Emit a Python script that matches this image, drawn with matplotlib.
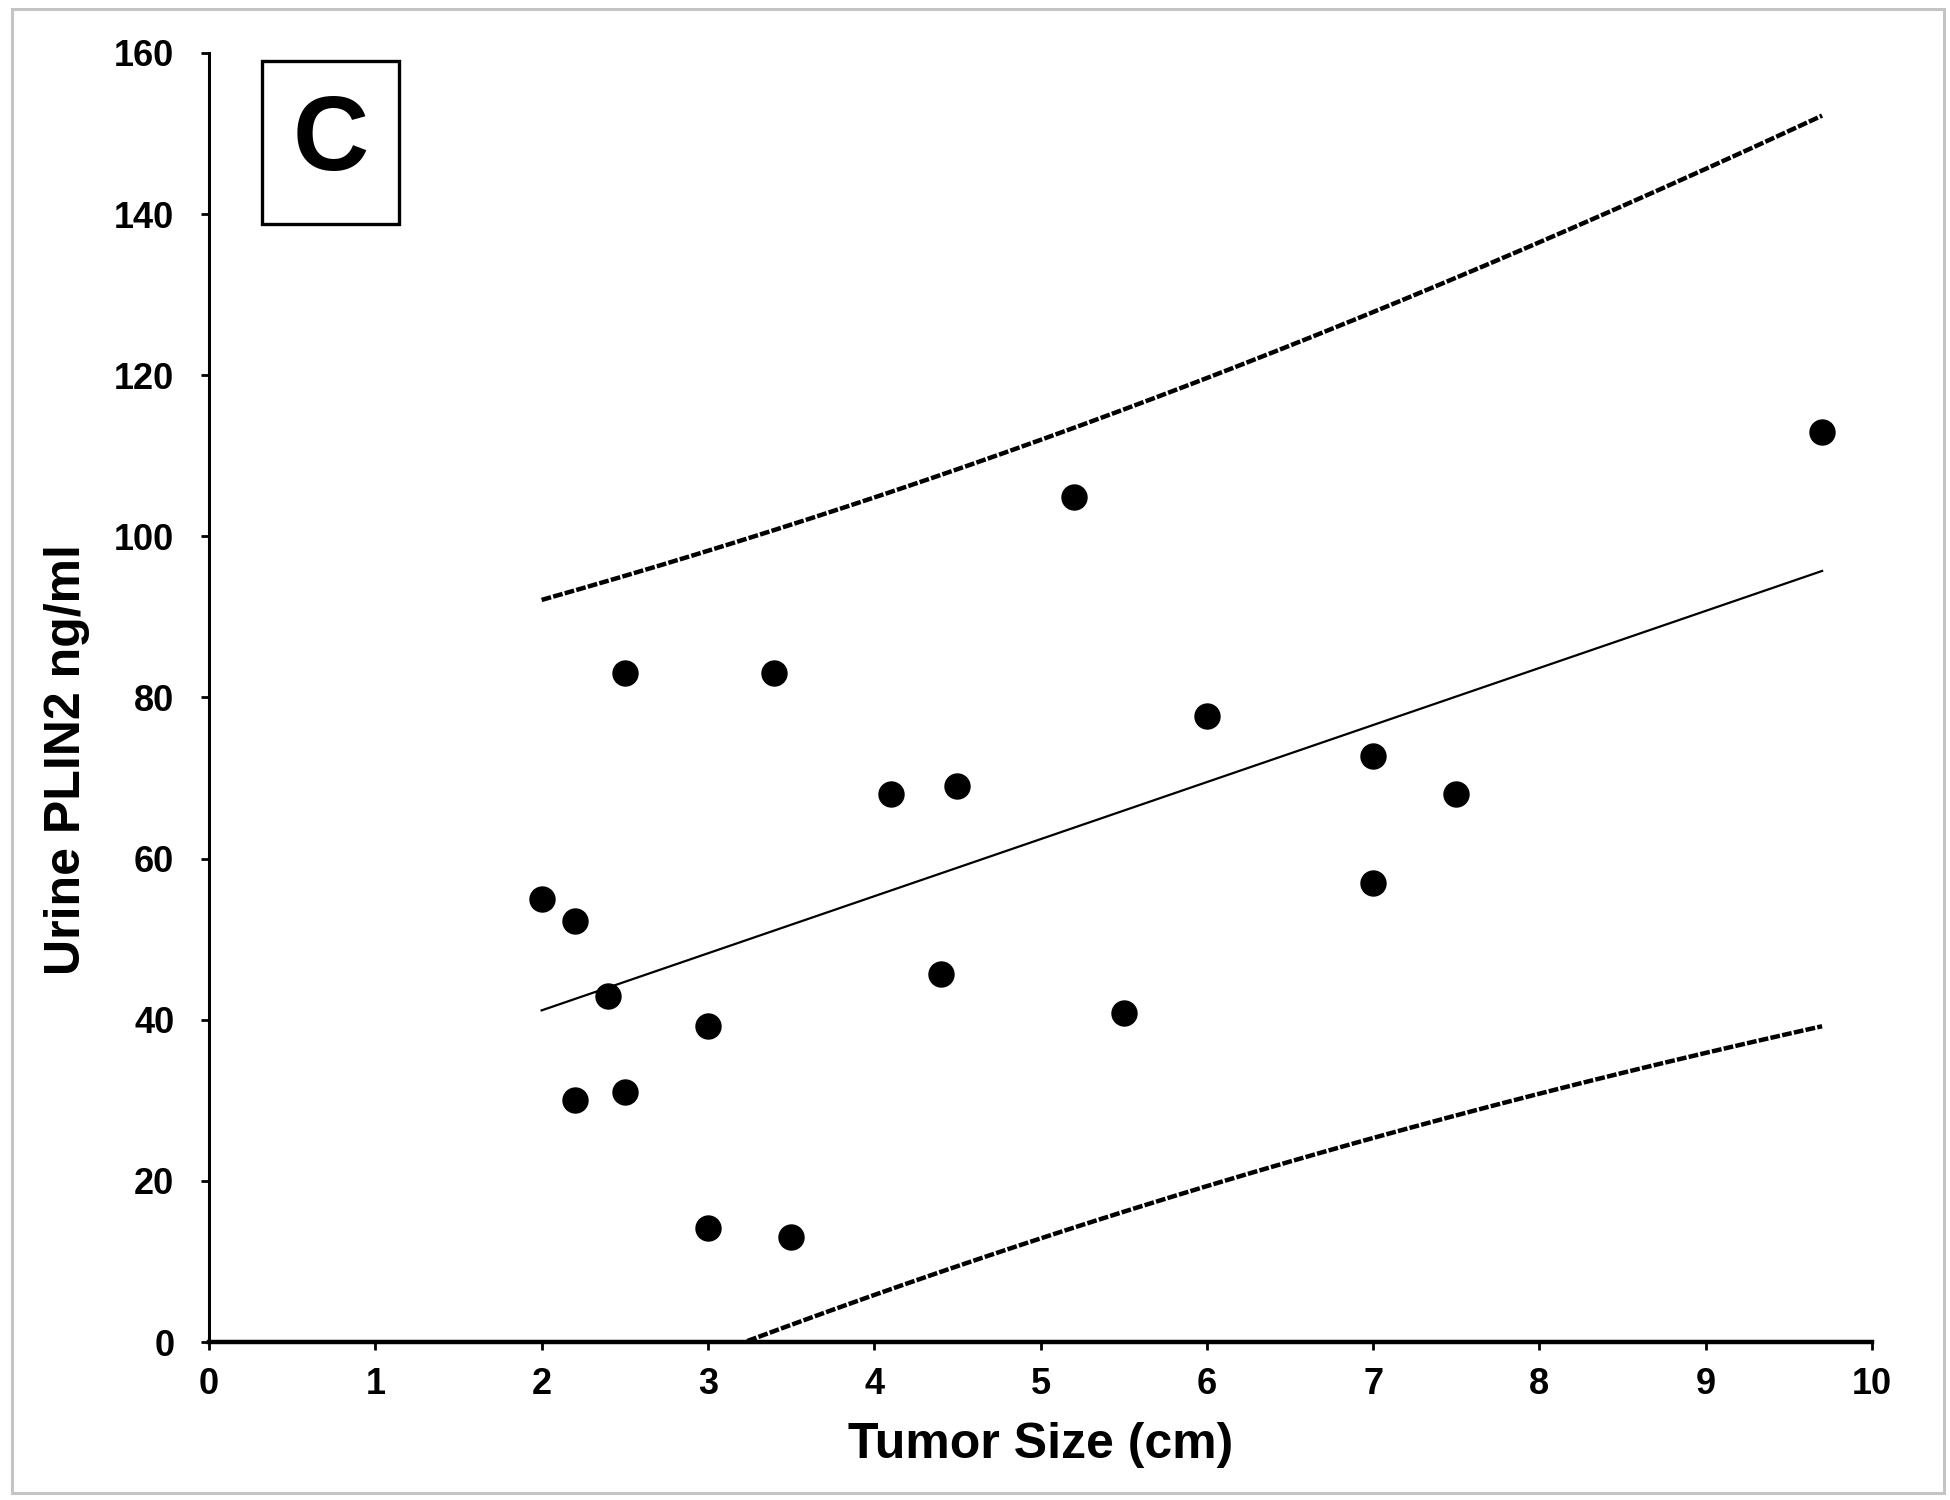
import numpy as np
import matplotlib
matplotlib.use('Agg')
import matplotlib.pyplot as plt
from matplotlib.patches import Rectangle

plt.rcParams['font.family'] = ['Liberation Sans', 'DejaVu Sans']
plt.rcParams['font.weight'] = 'bold'

# tumor size (cm) vs urine PLIN2 (ng/ml)
tumor_size = [2.0, 2.2, 2.4, 2.2, 2.5, 2.5, 3.0, 3.0, 3.5, 3.4,
              4.1, 4.5, 4.4, 5.2, 5.5, 6.0, 7.0, 7.0, 7.5, 9.7]
plin2 = [55.0, 52.2, 42.9, 30.0, 31.0, 83.1, 39.2, 14.2, 13.1, 83.1,
         68.0, 69.0, 45.7, 104.9, 40.8, 77.7, 72.7, 57.0, 68.0, 112.9]
xticks = list(range(0, 11))
yticks = list(range(0, 161, 20))
t_95 = 2.101  # t(0.975, df=18)

x = np.asarray(tumor_size)
y = np.asarray(plin2)
n = len(x)
slope, icpt = np.polyfit(x, y, 1)
resid = y - (slope*x + icpt)
s = np.sqrt(np.sum(resid**2)/(n - 2))
sxx = np.sum((x - x.mean())**2)

xf = np.linspace(x.min(), x.max(), 300)
yf = slope*xf + icpt
half = t_95*s*np.sqrt(1 + 1/n + (xf - x.mean())**2/sxx)
upper = yf + half
lower = yf - half
lower = np.where(lower >= 0, lower, np.nan)

fg = plt.figure(figsize=(19.5, 15), dpi=100)
ax = fg.add_axes([0.1072, 0.1053, 0.8528, 0.8594])

# grey frame round the whole picture
fg.patches.append(Rectangle((0.006, 0.005), 0.991, 0.989, transform=fg.transFigure,
                            fill=False, edgecolor='#c4c4c4', linewidth=2.2))

ax.plot(xf, yf, color='black', lw=1.6)
ax.plot(xf, upper, color='black', lw=3.2, linestyle=(0, (2.2, 0.5)))
ax.plot(xf, lower, color='black', lw=3.2, linestyle=(0, (2.2, 0.5)))
ax.plot(x, y, 'o', color='black', markersize=18, zorder=3)

ax.set_xlim(0, 10)
ax.set_ylim(0, 160)
ax.set_xticks(xticks)
ax.set_yticks(yticks)
ax.tick_params(axis='both', direction='out', length=6, width=2, labelsize=26)
ax.tick_params(axis='y', pad=19)
ax.tick_params(axis='x', pad=12)
for sp in ['top', 'right']:
    ax.spines[sp].set_visible(False)
ax.spines['left'].set_linewidth(2.2)
ax.spines['bottom'].set_linewidth(3.2)

ax.set_xlabel('Tumor Size (cm)', fontsize=36, fontweight='bold')
ax.set_ylabel('Urine PLIN2 ng/ml', fontsize=36, fontweight='bold')
ax.xaxis.set_label_coords(0.5, -0.062)
ax.yaxis.set_label_coords(-0.0716, 0.4515)

# panel letter
ax.add_patch(Rectangle((0.0319, 0.8673), 0.0824, 0.1265, transform=ax.transAxes,
                       fill=False, edgecolor='black', linewidth=2.4, clip_on=False))
ax.text(0.0731, 0.9306, 'C', transform=ax.transAxes, fontsize=76, fontweight='bold',
        ha='center', va='center')

fg.savefig('out.png', dpi=100)
